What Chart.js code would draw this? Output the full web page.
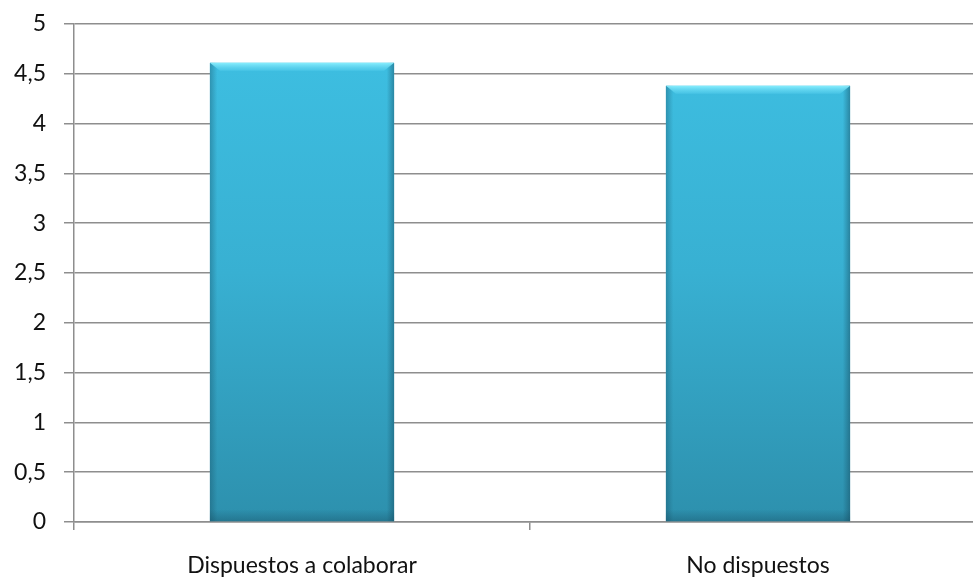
<!DOCTYPE html>
<html>
<head>
<meta charset="utf-8">
<script src="https://cdn.jsdelivr.net/npm/chart.js@4"></script>
<style>
  html, body { margin: 0; padding: 0; background: #fff; overflow: hidden; }
  #wrap { width: 990px; height: 581px; position: relative; }
</style>
</head>
<body>
<div id="wrap"><canvas id="chart"></canvas></div>
<script>
const categories = ["Dispuestos a colaborar", "No dispuestos"];
const values = [4.61, 4.38];
const yMin = 0;
const yMax = 5;
const yStep = 0.5;

// bevel-ish look for the bars: dark side edges and a light top band
const bevelPlugin = {
  id: "bevel",
  afterDatasetsDraw(chart) {
    const ctx = chart.ctx;
    chart.getDatasetMeta(0).data.forEach((bar) => {
      const left = bar.x - bar.width / 2;
      const right = bar.x + bar.width / 2;
      const top = bar.y;
      const bottom = bar.base;
      ctx.save();
      // side shading
      let g = ctx.createLinearGradient(left, 0, right, 0);
      g.addColorStop(0, "rgba(20,70,90,0.35)");
      g.addColorStop(0.04, "rgba(20,70,90,0)");
      g.addColorStop(0.96, "rgba(20,70,90,0)");
      g.addColorStop(1, "rgba(20,70,90,0.45)");
      ctx.fillStyle = g;
      ctx.fillRect(left, top, right - left, bottom - top);
      // light bevel at top
      ctx.beginPath();
      ctx.moveTo(left, top);
      ctx.lineTo(right, top);
      ctx.lineTo(right - 10, top + 8);
      ctx.lineTo(left + 10, top + 8);
      ctx.closePath();
      g = ctx.createLinearGradient(0, top, 0, top + 8);
      g.addColorStop(0, "rgba(140,240,255,0.95)");
      g.addColorStop(1, "rgba(90,210,240,0.4)");
      ctx.fillStyle = g;
      ctx.fill();
      // darker bottom band
      g = ctx.createLinearGradient(0, bottom - 12, 0, bottom);
      g.addColorStop(0, "rgba(20,70,90,0)");
      g.addColorStop(1, "rgba(20,70,90,0.35)");
      ctx.fillStyle = g;
      ctx.fillRect(left, bottom - 12, right - left, 12);
      ctx.restore();
    });
  },
};

const ctx = document.getElementById("chart").getContext("2d");
new Chart(ctx, {
  type: "bar",
  data: {
    labels: categories,
    datasets: [
      {
        data: values,
        backgroundColor: (c) => {
          const area = c.chart.chartArea;
          if (!area) return "#38afd0";
          const g = c.chart.ctx.createLinearGradient(0, area.top, 0, area.bottom);
          g.addColorStop(0, "#3ec0e3");
          g.addColorStop(0.5, "#38b0d2");
          g.addColorStop(1, "#2d90ad");
          return g;
        },
        borderWidth: 0,
        barPercentage: 0.8,
        categoryPercentage: 0.505,
      },
    ],
  },
  options: {
    responsive: true,
    maintainAspectRatio: false,
    animation: false,
    layout: { padding: { top: 24, right: 4, left: 0, bottom: 0 } },
    plugins: {
      legend: { display: false },
      tooltip: { enabled: false },
    },
    scales: {
      y: {
        min: yMin,
        max: yMax,
        ticks: {
          stepSize: yStep,
          color: "#111",
          padding: 18,
          font: { family: "Lato", size: 23 },
          callback: (v) => String(v).replace(".", ","),
        },
        grid: {
          color: "#8e8e8e",
          lineWidth: 1.5,
          tickLength: 10,
        },
        border: { color: "#8e8e8e", width: 1.5 },
        afterFit: (s) => {
          s.width = 74;
          s.paddingTop = 0;
          s.paddingBottom = 0;
        },
      },
      x: {
        ticks: {
          color: "#111",
          padding: 22,
          font: { family: "Lato", size: 23 },
        },
        grid: {
          offset: true,
          drawOnChartArea: false,
          color: "#8e8e8e",
          lineWidth: 1.5,
          tickLength: 8,
        },
        border: { color: "#8e8e8e", width: 1.5 },
        afterFit: (s) => { s.height = 59; },
      },
    },
  },
  plugins: [bevelPlugin],
});
</script>
</body>
</html>
